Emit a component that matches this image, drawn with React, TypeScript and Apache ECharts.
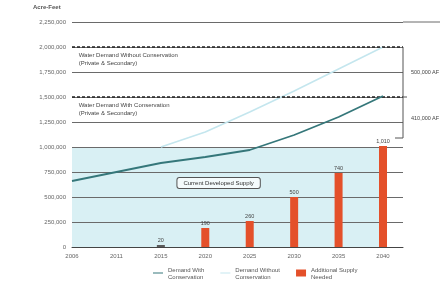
import React, { useEffect, useRef } from "react";
import * as echarts from "echarts";

const years = ["2006", "2011", "2015", "2020", "2025", "2030", "2035", "2040"];
const withConservation = [660000, 750000, 840000, 900000, 970000, 1120000, 1300000, 1510000];
const withoutConservation = [null, null, 1000000, 1150000, 1350000, 1560000, 1780000, 2000000];
const supplyNeeded = [null, null, 20000, 190000, 260000, 500000, 740000, 1010000];
const yTicks = { min: 0, max: 2250000, interval: 250000 };
const developedSupply = 1000000;
const bracketLevels = [2000000, 1500000, 1090000];
const bracketLabels = ["500,000 AF", "410,000 AF"];

const FONT = "Liberation Sans, Arial, sans-serif";
const LINE_ICON = "path://M0,4 L20,4 L20,6 L0,6 Z";

export default function App() {
  const ref = useRef<HTMLDivElement>(null);
  useEffect(() => {
    if (!ref.current) return;
    const chart = echarts.init(ref.current, null, { renderer: "svg" });
    const xMax = years.length - 1 + 0.45;
    const fmt = (v: number) => v.toLocaleString("en-US");
    chart.setOption({
      animation: false,
      textStyle: { fontFamily: FONT },
      grid: { left: 72, right: 41, top: 22, bottom: 36 },
      legend: {
        left: 148,
        top: 261,
        itemWidth: 10,
        itemHeight: 7,
        itemGap: 16,
        textStyle: { fontSize: 6, color: "#555", lineHeight: 7 },
        data: [
          { name: "Demand With Conservation", icon: LINE_ICON },
          { name: "Demand Without Conservation", icon: LINE_ICON },
          { name: "Additional Supply Needed", icon: "rect" },
        ],
        formatter: (n: string) =>
          n === "Demand With Conservation"
            ? "Demand With\nConservation"
            : n === "Demand Without Conservation"
            ? "Demand Without\nConservation"
            : "Additional Supply\nNeeded",
      },
      xAxis: {
        type: "value",
        min: 0,
        max: xMax,
        interval: 1,
        z: 1,
        axisLine: { show: true, lineStyle: { color: "#444", width: 1 } },
        axisTick: { show: false },
        splitLine: { show: false },
        axisLabel: {
          fontSize: 6,
          color: "#666",
          margin: 6,
          formatter: (v: number) => (Number.isInteger(v) && years[v] ? years[v] : ""),
        },
      },
      yAxis: {
        type: "value",
        min: yTicks.min,
        max: yTicks.max,
        interval: yTicks.interval,
        z: 1,
        axisLine: { show: false },
        axisTick: { show: false },
        splitLine: { lineStyle: { color: "#6a6a6a", width: 1 } },
        axisLabel: { fontSize: 6, color: "#666", margin: 6, formatter: (v: number) => fmt(v) },
      },
      series: [
        {
          name: "shade",
          type: "line",
          z: 0,
          zlevel: 0,
          silent: true,
          data: [],
          markArea: {
            silent: true,
            z: 0,
            itemStyle: { color: "#d9f0f4" },
            data: [[{ xAxis: 0, yAxis: 0 }, { xAxis: years.length - 1, yAxis: developedSupply }]],
          },
        },
        {
          name: "Additional Supply Needed",
          type: "bar",
          barWidth: 8,
          z: 3,
          data: supplyNeeded.map((v, i) =>
            v == null
              ? [i, null]
              : { value: [i, v], itemStyle: { color: i === 2 ? "#5a5a5a" : "#e4502a" } }
          ),
          itemStyle: { color: "#e4502a" },
          label: {
            show: true,
            position: "top",
            fontSize: 5.5,
            color: "#444",
            distance: 2,
            formatter: (p: any) => fmt(Math.round(p.value[1] / 1000)),
          },
        },
        {
          name: "Demand Without Conservation",
          type: "line",
          symbol: "none",
          z: 4,
          lineStyle: { color: "#c4e6ee", width: 1.5 },
          itemStyle: { color: "#c4e6ee" },
          data: withoutConservation.map((v, i) => [i, v]),
          markLine: {
            silent: true,
            symbol: "none",
            label: { show: false },
            lineStyle: { color: "#222", type: [3, 2], width: 1.6 },
            data: [{ yAxis: bracketLevels[0] }, { yAxis: bracketLevels[1] }],
          },
        },
        {
          name: "Demand With Conservation",
          type: "line",
          symbol: "none",
          z: 5,
          lineStyle: { color: "#35777a", width: 1.8 },
          itemStyle: { color: "#35777a" },
          data: withConservation.map((v, i) => [i, v]),
        },
      ],
    });

    const p = (x: number, y: number) => chart.convertToPixel({ gridIndex: 0 }, [x, y]) as number[];
    const top = p(xMax, yTicks.max);
    const b0 = p(xMax, bracketLevels[0]);
    const b1 = p(xMax, bracketLevels[1]);
    const b2 = p(xMax, bracketLevels[2]);
    const lab1 = p(xMax, (bracketLevels[0] + bracketLevels[1]) / 2);
    const lab2 = p(xMax, (bracketLevels[1] + bracketLevels[2]) / 2);
    const sup = p(3.3, developedSupply * 0.64);
    const ann1 = p(0.15, bracketLevels[0]);
    const ann2 = p(0.15, bracketLevels[1]);
    const lineStyle = { stroke: "#555", lineWidth: 1 };
    const small = { fontSize: 5.5, fill: "#444", fontFamily: FONT };
    chart.setOption({
      graphic: [
        { type: "line", z: 100, shape: { x1: top[0], y1: top[1], x2: 440, y2: top[1] }, style: { stroke: "#6a6a6a", lineWidth: 1 } },
        { type: "line", z: 100, shape: { x1: b0[0], y1: b0[1], x2: b2[0], y2: b2[1] }, style: lineStyle },
        { type: "line", z: 100, shape: { x1: b2[0] - 8, y1: b2[1], x2: b2[0], y2: b2[1] }, style: lineStyle },
        { type: "line", z: 100, shape: { x1: b1[0], y1: b1[1], x2: b1[0] + 4, y2: b1[1] }, style: lineStyle },
        { type: "text", z: 100, x: lab1[0] + 8, y: lab1[1], style: { ...small, text: bracketLabels[0], verticalAlign: "middle" } },
        { type: "text", z: 100, x: lab2[0] + 8, y: lab2[1], style: { ...small, text: bracketLabels[1], verticalAlign: "middle" } },
        {
          type: "text",
          z: 100,
          x: ann1[0],
          y: ann1[1] + 4,
          style: { ...small, fontSize: 6, text: "Water Demand Without Conservation\n(Private & Secondary)", lineHeight: 8 },
        },
        {
          type: "text",
          z: 100,
          x: ann2[0],
          y: ann2[1] + 4,
          style: { ...small, fontSize: 6, text: "Water Demand With Conservation\n(Private & Secondary)", lineHeight: 8 },
        },
        {
          type: "text",
          z: 100,
          x: sup[0],
          y: sup[1],
          style: {
            ...small,
            fontSize: 6,
            fill: "#333",
            text: "Current Developed Supply",
            align: "center",
            verticalAlign: "middle",
            backgroundColor: "#f4fbfc",
            borderColor: "#555",
            borderWidth: 1,
            borderRadius: 2,
            padding: [2, 6],
          },
        },
        {
          type: "text",
          z: 100,
          x: 33,
          y: 4,
          style: { fontSize: 6, fontWeight: "bold", fill: "#555", fontFamily: FONT, text: "Acre-Feet" },
        },
      ],
    });
    return () => chart.dispose();
  }, []);
  return <div ref={ref} style={{ width: 444, height: 283, position: "fixed", left: 0, top: 0 }} />;
}
